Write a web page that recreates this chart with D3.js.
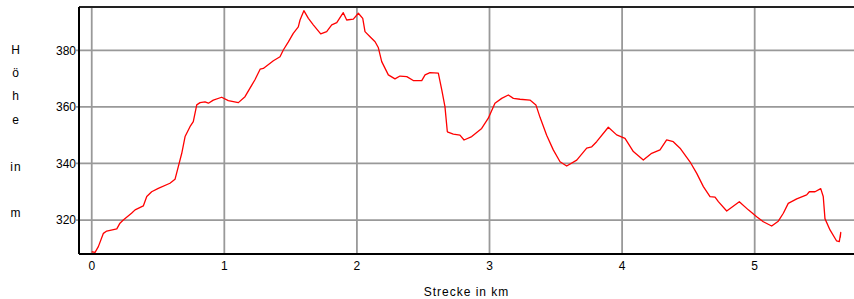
<!DOCTYPE html>
<meta charset="utf-8">
<style>
  body { margin: 0; background: #fff; }
  text { font-family: "Liberation Sans", Arial, sans-serif; font-size: 12px; fill: #000; }
</style>
<svg width="854" height="299"></svg>
<script src="https://d3js.org/d3.v7.min.js"></script>
<script>
  // Höhenprofil: Strecke (km) vs. Höhe (m)
  var distKm = [0.000, 0.025, 0.050, 0.088, 0.113, 0.189, 0.213, 0.238, 0.300, 0.327,
    0.389, 0.415, 0.452, 0.502, 0.590, 0.628, 0.653, 0.679, 0.704, 0.741,
    0.766, 0.792, 0.817, 0.854, 0.880, 0.917, 0.980, 1.030, 1.106, 1.156,
    1.207, 1.230, 1.270, 1.294, 1.370, 1.420, 1.445, 1.483, 1.520, 1.558,
    1.571, 1.600, 1.634, 1.671, 1.727, 1.772, 1.810, 1.848, 1.897, 1.923,
    1.973, 2.011, 2.044, 2.061, 2.099, 2.137, 2.161, 2.187, 2.237, 2.287,
    2.325, 2.376, 2.425, 2.489, 2.514, 2.551, 2.614, 2.640, 2.664, 2.682,
    2.727, 2.777, 2.808, 2.866, 2.941, 2.991, 3.041, 3.092, 3.142, 3.180,
    3.230, 3.305, 3.350, 3.381, 3.431, 3.481, 3.532, 3.582, 3.658, 3.733,
    3.771, 3.808, 3.896, 3.959, 4.022, 4.085, 4.160, 4.223, 4.286, 4.336,
    4.386, 4.437, 4.512, 4.563, 4.613, 4.663, 4.701, 4.726, 4.789, 4.884,
    4.952, 5.015, 5.065, 5.128, 5.178, 5.216, 5.253, 5.317, 5.392, 5.412,
    5.455, 5.498, 5.517, 5.530, 5.568, 5.618, 5.638, 5.649, 5.645];
  var heightM = [308.8, 308.6, 310.6, 315.3, 316.1, 316.9, 318.9, 320.0, 322.4, 323.6,
    325.0, 328.3, 330.0, 331.2, 333.0, 334.4, 338.9, 343.6, 349.5, 353.0,
    354.8, 360.7, 361.5, 361.8, 361.3, 362.4, 363.4, 362.2, 361.5, 363.6,
    367.7, 369.5, 373.3, 373.6, 376.3, 377.7, 380.1, 383.0, 386.0, 388.3,
    390.7, 394.0, 391.3, 389.0, 385.8, 386.6, 389.0, 389.8, 393.3, 390.7,
    391.0, 393.1, 391.3, 386.6, 384.8, 383.0, 381.0, 376.0, 371.3, 369.9,
    370.9, 370.7, 369.3, 369.3, 371.3, 372.1, 371.9, 366.0, 360.1, 351.2,
    350.4, 350.0, 348.3, 349.5, 352.4, 356.0, 361.3, 363.0, 364.2, 363.0,
    362.7, 362.4, 360.7, 356.3, 350.0, 344.8, 340.6, 339.1, 341.2, 345.4,
    345.9, 347.7, 352.8, 350.1, 348.9, 344.2, 341.2, 343.6, 344.8, 348.3,
    347.7, 345.4, 340.6, 336.5, 331.8, 328.3, 328.1, 326.5, 323.2, 326.5,
    323.6, 321.2, 319.4, 317.9, 319.6, 322.4, 325.9, 327.5, 328.9, 330.0,
    330.0, 331.1, 328.3, 320.5, 316.5, 312.6, 312.4, 315.6, 313.8];
  var xTicks = [0, 1, 2, 3, 4, 5];
  var yTicks = [320, 340, 360, 380];
  var yLabelChars = ["H", "ö", "h", "e", "", "in", "", "m"];
  var xTitle = "Strecke in km";

  var svg = d3.select("svg"),
    margin = {top: 7, right: 0, bottom: 45, left: 79},
    width = +svg.attr("width") - margin.left - margin.right,
    height = +svg.attr("height") - margin.top - margin.bottom,
    g = svg.append("g").attr("transform", "translate(" + margin.left + "," + margin.top + ")");

  var x = d3.scaleLinear().domain([-0.096, 5.749]).range([0, width]);
  var y = d3.scaleLinear().domain([308.0, 395.3]).range([height, 0]);

  var data = distKm.map(function(d, i) { return {km: d, h: heightM[i]}; });

  // grid
  g.append("g").selectAll("line")
    .data(yTicks)
    .enter().append("line")
    .attr("x1", -3).attr("x2", width)
    .attr("y1", function(d) { return y(d); })
    .attr("y2", function(d) { return y(d); })
    .attr("stroke", "#999").attr("stroke-width", 1.8);
  g.append("g").selectAll("line")
    .data(xTicks)
    .enter().append("line")
    .attr("y1", 0).attr("y2", height)
    .attr("x1", function(d) { return x(d); })
    .attr("x2", function(d) { return x(d); })
    .attr("stroke", "#999").attr("stroke-width", 1.8);

  // frame
  g.append("line").attr("x1", 0).attr("x2", width).attr("y1", 0).attr("y2", 0)
    .attr("stroke", "#222").attr("stroke-width", 2);
  g.append("line").attr("x1", 0).attr("x2", 0).attr("y1", 0).attr("y2", height)
    .attr("stroke", "#000").attr("stroke-width", 2);
  g.append("line").attr("x1", 0).attr("x2", width).attr("y1", height).attr("y2", height)
    .attr("stroke", "#000").attr("stroke-width", 2);

  // tick labels
  g.append("g").selectAll("text")
    .data(yTicks)
    .enter().append("text")
    .attr("x", -3)
    .attr("y", function(d) { return y(d); })
    .attr("dy", "0.36em")
    .attr("text-anchor", "end")
    .text(function(d) { return d; });
  g.append("g").selectAll("text")
    .data(xTicks)
    .enter().append("text")
    .attr("x", function(d) { return x(d); })
    .attr("y", height + 16)
    .attr("text-anchor", "middle")
    .text(function(d) { return d; });

  // profile line
  var line = d3.line()
    .x(function(d) { return x(d.km); })
    .y(function(d) { return y(d.h); });
  g.append("path")
    .datum(data)
    .attr("fill", "none")
    .attr("stroke", "#ff0000")
    .attr("stroke-width", 1.3)
    .attr("stroke-linejoin", "round")
    .attr("d", line);

  // titles
  svg.append("text")
    .attr("x", margin.left + width / 2)
    .attr("y", 296)
    .attr("text-anchor", "middle")
    .attr("letter-spacing", "1px")
    .text(xTitle);
  svg.append("g").selectAll("text")
    .data(yLabelChars)
    .enter().append("text")
    .attr("x", 16)
    .attr("y", function(d, i) { return 53.5 + i * 23.4; })
    .attr("text-anchor", "middle")
    .attr("letter-spacing", "1px")
    .text(function(d) { return d; });
</script>
